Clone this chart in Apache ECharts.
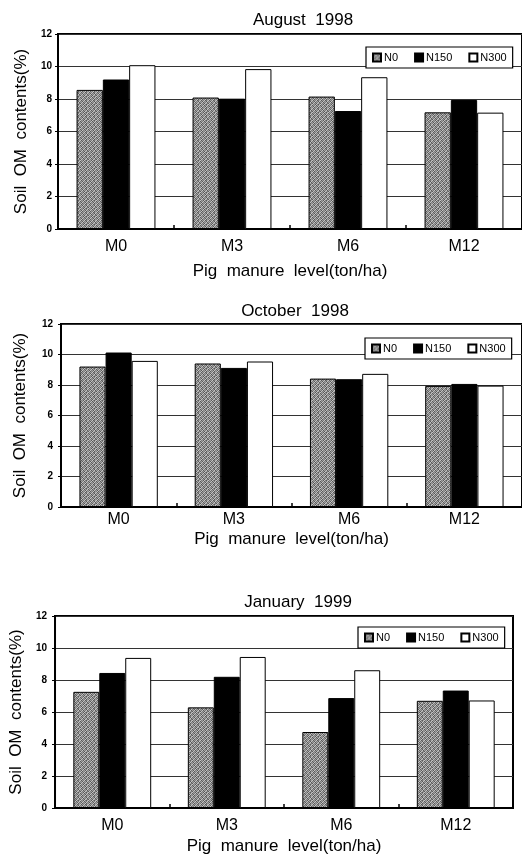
<!DOCTYPE html>
<html>
<head>
<meta charset="utf-8">
<script src="https://cdn.jsdelivr.net/npm/echarts@6/dist/echarts.min.js"></script>
<style>
html,body{margin:0;padding:0;background:#fff;}
#c{width:522px;height:856px;}
</style>
</head>
<body>
<div id="c"></div>
<script>
// ---- data ----
const categories = ['M0', 'M3', 'M6', 'M12'];
const seriesNames = ['N0', 'N150', 'N300'];
const panelTitles = ['August  1998', 'October  1998', 'January  1999'];
const yTicks = [0, 2, 4, 6, 8, 10, 12];

const aug1998_N0   = [8.56, 8.09, 8.15, 7.18];
const aug1998_N150 = [9.20, 8.02, 7.26, 7.94];
const aug1998_N300 = [10.08, 9.84, 9.34, 7.16];

const oct1998_N0   = [9.21, 9.41, 8.42, 7.94];
const oct1998_N150 = [10.13, 9.12, 8.38, 8.07];
const oct1998_N300 = [9.58, 9.54, 8.73, 7.96];

const jan1999_N0   = [7.26, 6.29, 4.75, 6.70];
const jan1999_N150 = [8.44, 8.20, 6.87, 7.34];
const jan1999_N300 = [9.38, 9.44, 8.61, 6.72];

const panelData = [
  [aug1998_N0, aug1998_N150, aug1998_N300],
  [oct1998_N0, oct1998_N150, oct1998_N300],
  [jan1999_N0, jan1999_N150, jan1999_N300]
];

// ---- layout / style ----
const FONT = '"Liberation Sans", Arial, sans-serif';
const layouts = [
  {left: 58, top: 34, width: 469, height: 195, titleX: 298, titleTop: 7, labelMargin: 10, xNameGap: 34, yNameGap: 24, yLabelMargin: 6, legendLeft: 366, legendTop: 47},
  {left: 61, top: 324, width: 463, height: 183, titleX: 290, titleTop: 298, labelMargin: 5, xNameGap: 24, yNameGap: 32, yLabelMargin: 8, legendLeft: 365, legendTop: 338},
  {left: 53, top: 616, width: 460, height: 192, titleX: 293, titleTop: 589, labelMargin: 10, xNameGap: 30, yNameGap: 24, yLabelMargin: 8, legendLeft: 358, legendTop: 627}
];

// stippled grey texture for N0 (hand-laid halftone tile)
const tileRows = [
  '31203102',
  '02130213',
  '20312031',
  '13021302',
  '30213012',
  '12031203',
  '21302130',
  '03120321'
];
const toneMap = ['#5a5a5a', '#7c7c7c', '#a0a0a0', '#c4c4c4'];
const pat = document.createElement('canvas');
pat.width = 8; pat.height = 8;
const pctx = pat.getContext('2d');
for (let y = 0; y < 8; y++) for (let x = 0; x < 8; x++) {
  pctx.fillStyle = toneMap[+tileRows[y][x]];
  pctx.fillRect(x, y, 1, 1);
}
const fills = [{image: pat, repeat: 'repeat'}, '#000000', '#ffffff'];

const chart = echarts.init(document.getElementById('c'), null, {renderer: 'canvas'});

const option = {
  backgroundColor: '#fff',
  animation: false,
  title: [], legend: [], grid: [], xAxis: [], yAxis: [], series: []
};

layouts.forEach((L, i) => {
  option.title.push({
    text: panelTitles[i], left: L.titleX, top: L.titleTop, textAlign: 'center',
    textStyle: {fontFamily: FONT, fontSize: 17, fontWeight: 'normal', color: '#000'}
  });
  option.grid.push({
    left: L.left, top: L.top, width: L.width, height: L.height,
    show: true, borderColor: '#000', borderWidth: 2, backgroundColor: 'transparent'
  });
  option.legend.push({
    data: seriesNames, left: L.legendLeft, top: L.legendTop,
    orient: 'horizontal', itemWidth: 8, itemHeight: 8, itemGap: 16,
    padding: [5, 6], borderColor: '#000', borderWidth: 1.2, backgroundColor: '#fff',
    icon: 'rect', selectedMode: false,
    textStyle: {fontFamily: FONT, fontSize: 11, color: '#000', padding: [0, 0, 0, -2]}
  });
  option.xAxis.push({
    type: 'category', gridIndex: i, data: categories,
    name: 'Pig  manure  level(ton/ha)', nameLocation: 'middle', nameGap: L.xNameGap,
    nameTextStyle: {fontFamily: FONT, fontSize: 17, color: '#000'},
    axisLine: {lineStyle: {color: '#000', width: 2}},
    axisTick: {show: true, inside: true, length: 4, lineStyle: {color: '#000', width: 1.5}},
    axisLabel: {fontFamily: FONT, fontSize: 16, color: '#000', margin: L.labelMargin},
    splitLine: {show: false}
  });
  option.yAxis.push({
    type: 'value', gridIndex: i, min: 0, max: 12, interval: 2,
    name: 'Soil  OM  contents(%)', nameLocation: 'middle', nameGap: L.yNameGap, nameRotate: 90,
    nameTextStyle: {fontFamily: FONT, fontSize: 17, color: '#000'},
    axisLine: {show: true, lineStyle: {color: '#000', width: 2}},
    axisTick: {show: true, length: 3, lineStyle: {color: '#000'}},
    axisLabel: {fontFamily: FONT, fontSize: 10, fontWeight: 'bold', color: '#000', margin: L.yLabelMargin,
      formatter: v => yTicks.indexOf(v) >= 0 ? String(v) : ''},
    splitLine: {show: true, lineStyle: {color: '#333', width: 1}}
  });
  seriesNames.forEach((nm, k) => {
    option.series.push({
      type: 'bar', name: nm, xAxisIndex: i, yAxisIndex: i,
      data: panelData[i][k],
      barGap: '0%', barCategoryGap: '32%',
      itemStyle: {color: fills[k], borderColor: '#000', borderWidth: 1}
    });
  });
});

chart.setOption(option);
</script>
</body>
</html>
